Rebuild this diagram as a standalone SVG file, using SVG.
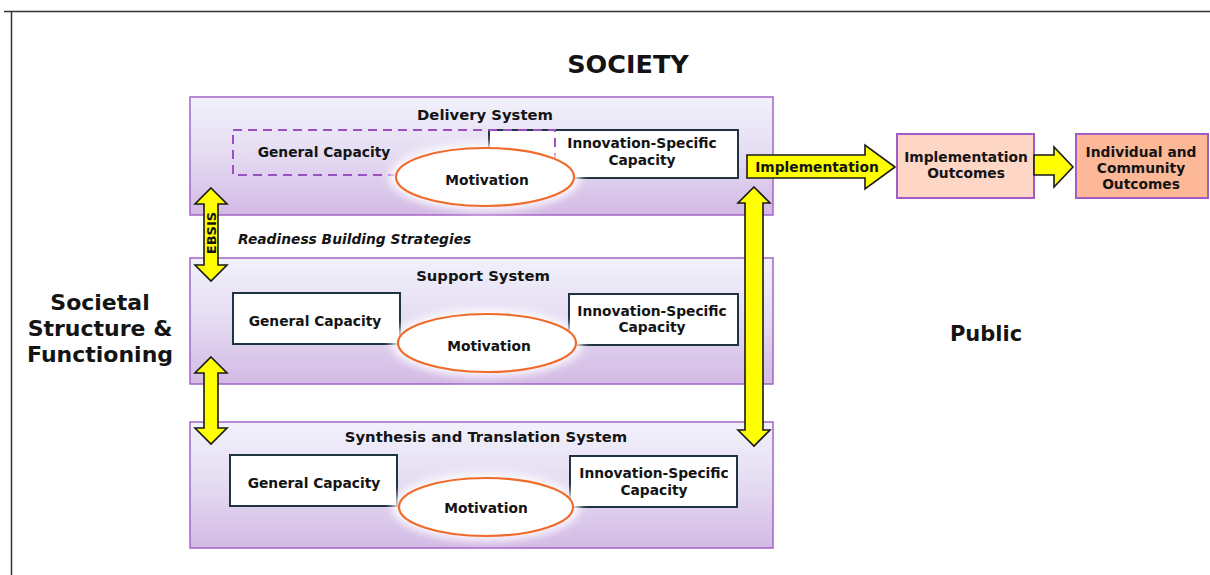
<svg xmlns="http://www.w3.org/2000/svg" width="1210" height="575" viewBox="0 0 1210 575">
  <defs>
    <linearGradient id="panelFill" x1="0" y1="0" x2="0" y2="1">
      <stop offset="0" stop-color="#f1f1fb"/>
      <stop offset="0.45" stop-color="#e6def3"/>
      <stop offset="1" stop-color="#d3b9e5"/>
    </linearGradient>
    <filter id="glow" x="-30%" y="-50%" width="160%" height="200%">
      <feGaussianBlur stdDeviation="4"/>
    </filter>
    <style>
      text { font-family: "DejaVu Sans", Verdana, sans-serif; font-weight: bold; fill: #141414; text-anchor: middle; }
      .panel { fill: url(#panelFill); stroke: #a366c6; stroke-width: 1.5; }
      .box { fill: #ffffff; stroke: #1f3340; stroke-width: 2; }
      .dashed { fill: none; stroke: #9b4fc2; stroke-width: 2; stroke-dasharray: 9 6; }
      .motiv { fill: #ffffff; stroke: #f06a2a; stroke-width: 2.2; }
      .halo { fill: #ffffff; opacity: 0.9; }
      .arrow { fill: #ffff00; stroke: #1a1a1a; stroke-width: 1.6; stroke-linejoin: miter; }
      .outcome { stroke: #a25cc6; stroke-width: 2; }
      .title { font-size: 14.8px; }
      .label { font-size: 13.8px; }
      .big { font-size: 22px; }
    </style>
  </defs>

  <rect width="1210" height="575" fill="#ffffff"/>
  <!-- outer frame -->
  <path d="M4 11.5 H1210 M11.5 11.5 V575" fill="none" stroke="#333333" stroke-width="1.5"/>

  <text x="628" y="73" style="font-size:25.5px">SOCIETY</text>
  <text x="986" y="341" style="font-size:21px">Public</text>
  <g id="societal">
    <text class="big" x="100" y="310">Societal</text>
    <text class="big" x="100" y="336">Structure &amp;</text>
    <text class="big" x="100" y="362">Functioning</text>
  </g>

  <!-- Delivery System -->
  <g id="delivery">
    <rect class="panel" x="190" y="97" width="583" height="118"/>
    <text class="title" x="485" y="120">Delivery System</text>
    <rect class="box" x="489" y="130" width="249" height="48"/>
    <rect class="dashed" x="233" y="130" width="322" height="45"/>
    <text class="label" x="324" y="157">General Capacity</text>
    <text class="label" x="642" y="148">Innovation-Specific</text>
    <text class="label" x="642" y="165">Capacity</text>
    <ellipse class="halo" cx="485" cy="177" rx="96" ry="34" filter="url(#glow)"/>
    <ellipse class="motiv" cx="485" cy="177" rx="89" ry="29"/>
    <text class="label" x="487" y="185">Motivation</text>
  </g>

  <text x="238" y="244" style="font-size:13.8px;font-style:italic;text-anchor:start">Readiness Building Strategies</text>

  <!-- Support System -->
  <g id="support">
    <rect class="panel" x="190" y="258" width="583" height="126"/>
    <text class="title" x="483" y="281">Support System</text>
    <rect class="box" x="233" y="293" width="167" height="51"/>
    <rect class="box" x="569" y="294" width="169" height="51"/>
    <text class="label" x="315" y="326">General Capacity</text>
    <text class="label" x="652" y="316">Innovation-Specific</text>
    <text class="label" x="652" y="332">Capacity</text>
    <ellipse class="halo" cx="487" cy="343" rx="96" ry="34" filter="url(#glow)"/>
    <ellipse class="motiv" cx="487" cy="343" rx="89" ry="29"/>
    <text class="label" x="489" y="351">Motivation</text>
  </g>

  <!-- Synthesis and Translation System -->
  <g id="synthesis">
    <rect class="panel" x="190" y="422" width="583" height="126"/>
    <text class="title" x="486" y="442">Synthesis and Translation System</text>
    <rect class="box" x="230" y="455" width="167" height="51"/>
    <rect class="box" x="570" y="456" width="167" height="51"/>
    <text class="label" x="314" y="488">General Capacity</text>
    <text class="label" x="654" y="478">Innovation-Specific</text>
    <text class="label" x="654" y="495">Capacity</text>
    <ellipse class="halo" cx="486" cy="507" rx="94" ry="34" filter="url(#glow)"/>
    <ellipse class="motiv" cx="486" cy="507" rx="87" ry="29"/>
    <text class="label" x="486" y="513">Motivation</text>
  </g>

  <!-- Outcome boxes -->
  <g id="implementation-outcomes">
    <rect class="outcome" x="897" y="134" width="137" height="64" fill="#fdd6c6"/>
    <text class="label" x="966" y="162">Implementation</text>
    <text class="label" x="966" y="178">Outcomes</text>
  </g>
  <g id="individual-outcomes">
    <rect class="outcome" x="1076" y="134" width="132" height="64" fill="#fdb898"/>
    <text class="label" x="1141" y="157">Individual and</text>
    <text class="label" x="1141" y="173">Community</text>
    <text class="label" x="1141" y="189">Outcomes</text>
  </g>

  <!-- Connectors -->
  <g id="connectors">
    <!-- EBSIS double arrow -->
    <path class="arrow" d="M211 188 L227 204 L218 204 L218 265 L227 265 L211 281 L195 265 L204 265 L204 204 L195 204 Z"/>
    <text x="0" y="0" transform="translate(216 233) rotate(-90)" style="font-size:13px">EBSIS</text>
    <!-- Support to Synthesis double arrow -->
    <path class="arrow" d="M211 357 L227 373 L218 373 L218 428 L227 428 L211 444 L195 428 L204 428 L204 373 L195 373 Z"/>
    <!-- Right vertical double arrow -->
    <path class="arrow" d="M754 187 L770 203 L763 203 L763 430 L770 430 L754 446 L738 430 L745 430 L745 203 L738 203 Z"/>
    <!-- Implementation arrow -->
    <path class="arrow" d="M747 155 L865 155 L865 145 L895 167 L865 189 L865 178 L747 178 Z"/>
    <text x="817" y="172" style="font-size:13.8px">Implementation</text>
    <!-- Outcomes arrow -->
    <path class="arrow" d="M1034 155 L1054 155 L1054 147 L1073 167 L1054 187 L1054 175 L1034 175 Z"/>
  </g>
</svg>
